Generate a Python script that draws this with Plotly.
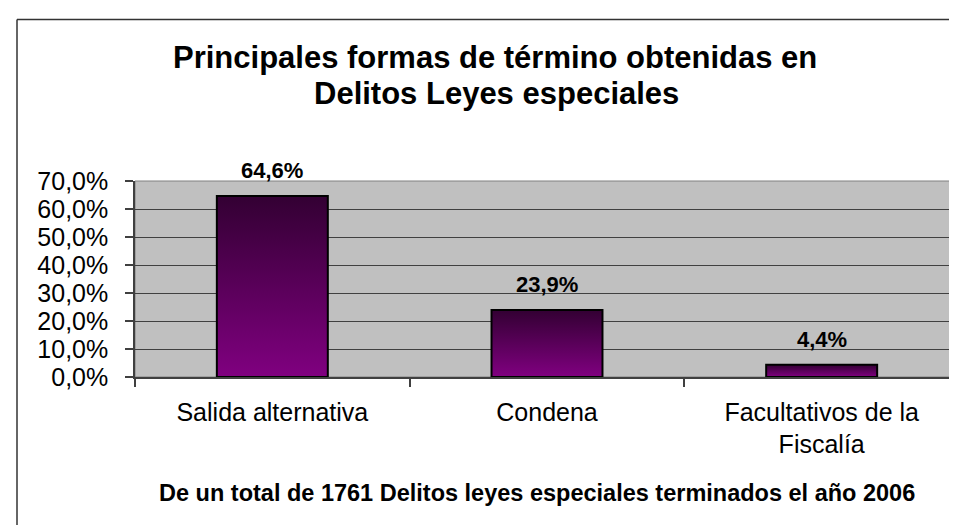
import plotly.graph_objects as go

# ---- data ----
categories = ["Salida alternativa", "Condena", "Facultativos de la<br>Fiscalía"]
values = [64.6, 23.9, 4.4]
y_ticks = [0, 10, 20, 30, 40, 50, 60, 70]
y_tick_labels = [f"{t:.1f}%".replace(".", ",") for t in y_ticks]
title_lines = ["Principales formas de término obtenidas en", "Delitos Leyes especiales"]
footnote = "De un total de 1761 Delitos leyes especiales terminados el año 2006"

# ---- geometry helpers ----
W, H = 957, 525
L, R, T, B = 127, 6, 173, 156
pw = W - L - R
ph = H - T - B


def px(x):
    return (x - L) / pw


def py(y):
    return (H - B - y) / ph


FONT = "Liberation Sans, Arial, sans-serif"
BAR_W = 0.404
GRID = "#404040"

fig = go.Figure()
for i, (c, v) in enumerate(zip(categories, values)):
    x0, x1 = i - BAR_W / 2, i + BAR_W / 2
    fig.add_trace(go.Scatter(
        x=[x0, x1, x1, x0, x0], y=[0, 0, v, v, 0],
        mode="lines", fill="toself",
        line=dict(color="black", width=2),
        fillgradient=dict(type="vertical",
                          colorscale=[[0, "#800080"], [1, "#330033"]]),
        hoverinfo="skip", showlegend=False, name=c.replace("<br>", " ")))

for i, v in enumerate(values):
    fig.add_annotation(x=i, y=v, xref="x", yref="y",
                       text="<b>" + f"{v:.1f}%".replace(".", ",") + "</b>",
                       showarrow=False, yanchor="bottom", yshift=11,
                       font=dict(size=22, family=FONT, color="black"))

# titles
fig.add_annotation(x=px(487), y=py(50), xref="paper", yref="paper",
                   text="<b>" + title_lines[0] + "</b>", showarrow=False,
                   xanchor="center", yanchor="middle",
                   font=dict(size=31, family=FONT, color="black"))
fig.add_annotation(x=px(488), y=py(86), xref="paper", yref="paper",
                   text="<b>" + title_lines[1] + "</b>", showarrow=False,
                   xanchor="center", yanchor="middle",
                   font=dict(size=31, family=FONT, color="black"))
fig.add_annotation(x=px(528.5), y=py(484.5), xref="paper", yref="paper",
                   text="<b>" + footnote + "</b>", showarrow=False,
                   xanchor="center", yanchor="middle",
                   font=dict(size=23.5, family=FONT, color="black"))

# outer frame (top and left visible)
fig.add_shape(type="line", xref="paper", yref="paper",
              x0=px(9), y0=py(11.5), x1=px(957), y1=py(11.5),
              line=dict(color="#333333", width=1.5))
fig.add_shape(type="line", xref="paper", yref="paper",
              x0=px(9), y0=py(11.5), x1=px(9), y1=py(525),
              line=dict(color="#333333", width=1.5))
# plot area border
fig.add_shape(type="rect", xref="paper", yref="paper", x0=0, y0=0, x1=1, y1=1,
              line=dict(color="#808080", width=1), layer="between")

fig.update_layout(
    width=W, height=H,
    margin=dict(l=L, r=R, t=T, b=B, pad=0),
    paper_bgcolor="white", plot_bgcolor="#C0C0C0",
    font=dict(family=FONT, color="black"),
    showlegend=False,
    xaxis=dict(range=[-0.5, 2.5], tickmode="array", tickvals=[0, 1, 2],
               ticktext=categories, ticks="", showgrid=False, zeroline=False,
               showline=True, linecolor=GRID, linewidth=1.5,
               ticklabelstandoff=12,
               tickfont=dict(size=25, family=FONT, color="black"),
               minor=dict(tickmode="array", tickvals=[-0.5, 0.5, 1.5, 2.5],
                          ticks="outside", ticklen=8, tickcolor=GRID,
                          tickwidth=1.5, showgrid=False),
               fixedrange=True),
    yaxis=dict(range=[0, 70], tickmode="array", tickvals=y_ticks,
               ticktext=y_tick_labels, ticks="outside", ticklen=8,
               tickcolor=GRID, tickwidth=1.5, showgrid=True, gridcolor=GRID,
               gridwidth=1, zeroline=False, showline=True, linecolor=GRID,
               linewidth=1.5, ticklabelstandoff=12,
               tickfont=dict(size=25, family=FONT, color="black"),
               fixedrange=True),
)

fig.write_html("out.html")
